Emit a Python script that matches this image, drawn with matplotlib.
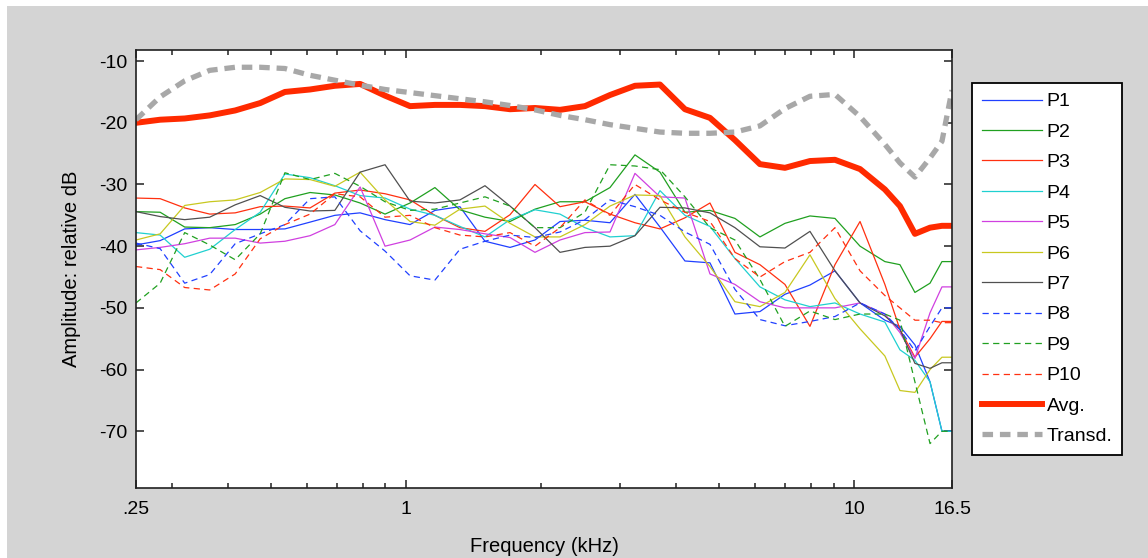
import matplotlib
matplotlib.use("Agg")
import matplotlib.pyplot as plt
from matplotlib.patches import Rectangle
from matplotlib.ticker import FixedLocator, NullFormatter

# frequency grid (kHz) shared by all curves
freq_khz = [0.25, 0.283, 0.321, 0.365, 0.416, 0.473, 0.537, 0.611, 0.694, 0.79,
            0.898, 1.021, 1.16, 1.319, 1.5, 1.706, 1.939, 2.205, 2.506, 2.85,
            3.24, 3.684, 4.188, 4.762, 5.414, 6.155, 6.998, 7.957, 9.047, 10.29,
            11.69, 12.63, 13.64, 14.74, 15.67, 16.5]

p1 = [-39.8, -39.1, -37.2, -37.0, -37.3, -37.3, -37.2, -36.1, -35.0, -34.6,
      -35.7, -36.5, -34.2, -33.6, -39.2, -40.2, -39.0, -36.0, -35.8, -36.2,
      -31.6, -36.9, -42.4, -42.7, -51.0, -50.6, -47.8, -46.3, -44.0, -49.2,
      -52.0, -53.0, -56.0, -62.0, -70.0, -70.0]
p2 = [-34.4, -34.5, -36.9, -37.0, -36.5, -34.8, -32.3, -31.3, -31.7, -33.0,
      -34.8, -33.0, -30.5, -34.1, -35.3, -36.0, -34.0, -32.8, -32.8, -30.5,
      -25.2, -28.0, -34.5, -34.2, -35.5, -38.5, -36.3, -35.1, -35.5, -40.0,
      -42.5, -43.0, -47.5, -46.0, -42.5, -42.5]
p3 = [-32.2, -32.3, -33.8, -34.8, -34.6, -33.6, -33.5, -33.8, -31.4, -30.9,
      -31.5, -32.5, -35.0, -37.0, -37.6, -34.9, -30.0, -33.6, -32.8, -34.8,
      -36.2, -37.2, -35.4, -33.0, -41.0, -43.0, -46.2, -53.0, -43.0, -36.0,
      -46.2, -53.5, -58.0, -55.0, -52.2, -52.2]
p4 = [-37.8, -38.2, -41.8, -40.5, -37.3, -34.5, -28.3, -28.9, -30.2, -31.8,
      -32.2, -34.0, -35.0, -36.8, -38.5, -35.7, -34.1, -34.8, -37.0, -38.5,
      -38.3, -31.0, -35.0, -36.8, -42.0, -46.6, -48.7, -49.8, -49.2, -51.0,
      -52.3, -56.8, -58.5, -62.0, -70.0, -70.0]
p5 = [-40.6, -40.2, -39.6, -38.7, -38.7, -39.5, -39.2, -38.3, -36.5, -30.4,
      -40.0, -39.0, -36.9, -37.3, -38.0, -38.6, -41.0, -39.0, -37.8, -37.7,
      -28.2, -32.0, -32.2, -44.5, -46.2, -49.0, -50.0, -50.0, -50.0, -49.2,
      -51.0, -54.0, -58.2, -50.8, -46.6, -46.6]
p6 = [-39.0, -38.0, -33.4, -32.8, -32.5, -31.3, -29.1, -29.2, -30.3, -28.0,
      -32.5, -36.0, -36.6, -34.0, -33.5, -36.3, -38.5, -38.5, -36.5, -33.5,
      -31.7, -31.8, -38.5, -43.3, -49.0, -49.8, -47.5, -41.4, -48.5, -53.4,
      -57.8, -63.4, -63.7, -60.0, -58.0, -58.0]
p7 = [-34.4, -35.2, -35.7, -35.3, -33.3, -31.8, -33.7, -34.3, -34.2, -28.0,
      -26.8, -32.7, -33.0, -32.5, -30.2, -33.5, -37.0, -41.0, -40.2, -40.0,
      -38.3, -33.7, -33.8, -34.6, -37.0, -40.1, -40.3, -37.6, -44.0, -49.2,
      -51.3, -53.5, -59.0, -59.8, -58.9, -58.9]
p8 = [-39.5, -40.4, -46.0, -44.6, -39.6, -38.0, -36.5, -32.3, -32.0, -37.5,
      -40.8, -44.8, -45.5, -40.5, -39.2, -38.2, -38.6, -37.7, -35.7, -32.5,
      -33.6, -35.0, -37.7, -39.7, -47.0, -51.9, -52.9, -52.2, -51.4, -49.2,
      -51.0, -53.5, -57.0, -53.0, -50.0, -50.0]
p9 = [-49.2, -46.0, -37.8, -39.8, -42.2, -38.0, -28.1, -29.2, -28.2, -30.3,
      -32.8, -34.2, -34.0, -33.0, -32.0, -33.5, -37.0, -37.0, -34.5, -26.8,
      -27.0, -27.6, -32.0, -37.0, -39.0, -45.4, -53.0, -50.5, -51.9, -51.0,
      -51.0, -52.0, -62.0, -72.0, -70.0, -70.0]
p10 = [-43.3, -43.8, -46.7, -47.1, -44.5, -38.8, -36.5, -34.8, -31.5, -32.0,
       -35.3, -35.0, -37.0, -38.2, -38.5, -37.8, -40.0, -37.0, -32.5, -35.0,
       -30.0, -32.5, -34.5, -36.0, -42.0, -45.0, -42.5, -41.0, -37.0, -44.0,
       -48.0, -50.0, -52.0, -52.0, -52.4, -52.4]
avg = [-20.0, -19.5, -19.3, -18.8, -18.0, -16.8, -15.0, -14.6, -14.0, -13.7,
       -15.6, -17.3, -17.1, -17.1, -17.3, -17.8, -17.6, -17.9, -17.3, -15.5,
       -14.0, -13.8, -17.8, -19.2, -22.8, -26.7, -27.3, -26.2, -26.0, -27.5,
       -30.8, -33.5, -38.0, -37.0, -36.7, -36.7]
transd = [-19.5, -15.8, -13.2, -11.5, -11.0, -11.0, -11.2, -12.3, -13.1, -13.9,
          -14.6, -15.1, -15.6, -16.1, -16.6, -17.2, -17.9, -18.8, -19.5, -20.3,
          -20.9, -21.5, -21.7, -21.7, -21.5, -20.5, -17.7, -15.7, -15.4, -19.0,
          -23.5, -26.5, -28.8, -25.7, -23.0, -14.7]

labels = ['P1', 'P2', 'P3', 'P4', 'P5', 'P6', 'P7', 'P8', 'P9', 'P10', 'Avg.', 'Transd.']

x_major = [0.25, 1, 10, 16.5]
x_major_labels = ['.25', '1', '10', '16.5']
x_minor = [0.3, 0.4, 0.5, 0.6, 0.7, 0.8, 0.9, 2, 3, 4, 5, 6, 7, 8, 9]
y_ticks = [-70, -60, -50, -40, -30, -20, -10]


plt.rcParams['font.family'] = ['Liberation Sans', 'DejaVu Sans']

fig = plt.figure(figsize=(11.48, 5.58), dpi=100)
fig.patch.set_facecolor('white')
fig.patches.append(Rectangle((7 / 1148, 0), 1, 552 / 558, transform=fig.transFigure,
                             facecolor='#d4d4d4', edgecolor='none', zorder=-10))

ax = fig.add_axes([136 / 1148, 70 / 558, 816 / 1148, 438 / 558])

blue = '#2040ff'
green = '#20a020'
red = '#ff3010'

series = [p1, p2, p3, p4, p5, p6, p7, p8, p9, p10]
colors = [blue, green, red, '#20d0d0', '#d040e0', '#c8c820', '#505050', blue, green, red]
styles = ['-'] * 7 + ['--'] * 3

for vals, col, ls, lab in zip(series, colors, styles, labels):
    line, = ax.plot(freq_khz, vals, color=col, lw=0.9, ls=ls, label=lab)
    if ls == '--':
        line.set_dashes((5, 3.5))

ax.plot(freq_khz, avg, color='#ff2a00', lw=4.3, label=labels[10])
ax.plot(freq_khz, transd, color='#a8a8a8', lw=3.8, dashes=(2, 1.3), label=labels[11])

ax.set_xscale('log')
ax.set_xlim(0.25, 16.5)
ax.set_ylim(-79.2, -8.2)

ax.xaxis.set_major_locator(FixedLocator(x_major))
ax.set_xticklabels(x_major_labels)
ax.xaxis.set_minor_locator(FixedLocator(x_minor))
ax.xaxis.set_minor_formatter(NullFormatter())
ax.set_yticks(y_ticks)
ax.set_yticklabels([str(v) for v in y_ticks])

ax.tick_params(which='both', direction='in', top=True, right=True,
               labelsize=14, width=1.1, color='#202020')
ax.tick_params(which='major', length=5.5)
ax.tick_params(axis='x', which='major', pad=9)
ax.tick_params(axis='y', which='major', pad=6)
ax.tick_params(which='minor', length=3.5)

for sp in ax.spines.values():
    sp.set_linewidth(1.2)
    sp.set_color('#202020')

ax.set_xlabel("Frequency (kHz)", fontsize=14.5, labelpad=14)
ax.set_ylabel("Amplitude: relative dB", fontsize=14.5, labelpad=13)

leg = ax.legend(loc='upper left', bbox_to_anchor=(972 / 1148, 475 / 558),
                bbox_transform=fig.transFigure, borderaxespad=0,
                fontsize=14, handlelength=3.1, handletextpad=0.25,
                labelspacing=0.66, fancybox=False, framealpha=1,
                edgecolor='black', borderpad=0.5)
leg.get_frame().set_linewidth(1.3)

fig.savefig("out.png", dpi=100, facecolor=fig.get_facecolor())
